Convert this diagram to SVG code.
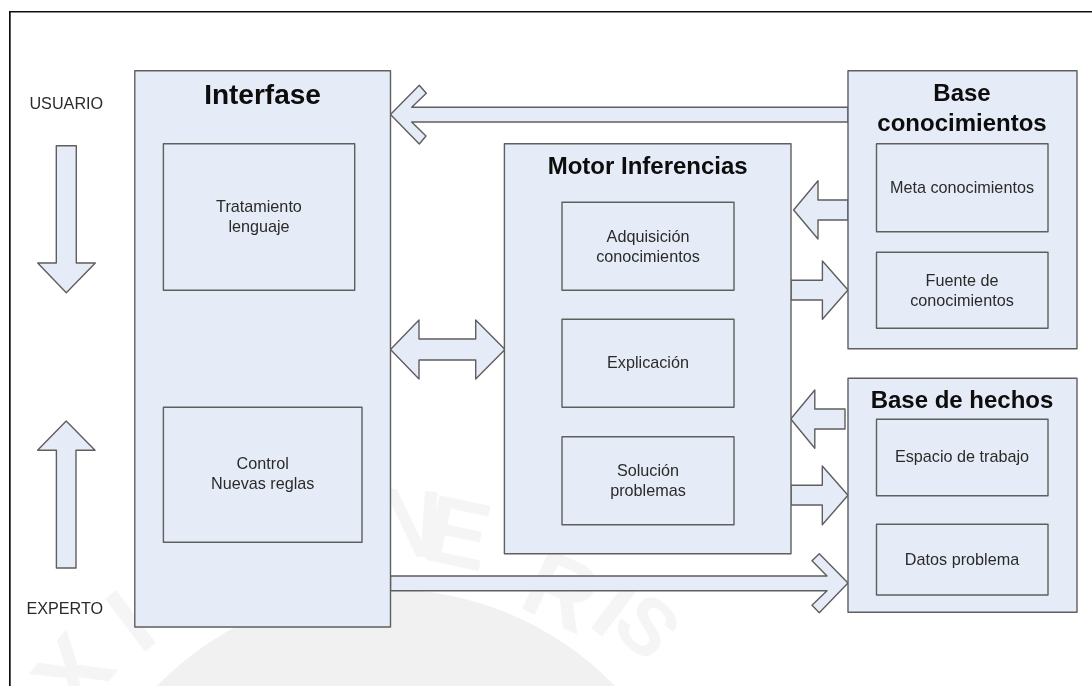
<svg xmlns="http://www.w3.org/2000/svg" width="1092" height="686" viewBox="0 0 1092 686">
<style>
text{font-family:"Liberation Sans",Arial,sans-serif;fill:#2b2b2b;font-size:16.2px;text-anchor:middle}
.t{font-weight:700;font-size:24px;fill:#0a0a0a}
.big{font-size:28px}
.s{fill:#e6ecf7;stroke:#5e5e5e;stroke-width:1.4;stroke-linejoin:round}
.wm{font-weight:700;font-size:96px;fill:#f5f5f5}
.wms{font-size:80px}
</style>
<defs>
<filter id="soft" x="0" y="0" width="100%" height="100%"><feGaussianBlur stdDeviation="0.4"/></filter>
</defs>
<rect width="1092" height="686" fill="#fff"/>
<g id="watermark">
<circle cx="386" cy="908" r="319" fill="#f1f1f1"/>
<text class="wm" transform="translate(72 672) rotate(-50)" y="34">X</text>
<text class="wm" transform="translate(130 620) rotate(-37)" y="34">I</text>
<text class="wm" transform="translate(407 522) rotate(4)" y="34">N</text>
<text class="wm" transform="translate(458 532) rotate(12)" y="34">E</text>
<text class="wm" transform="translate(562 590) rotate(25)" y="34">R</text>
<text class="wm" transform="translate(617 605) rotate(37)" y="34">I</text>
<text class="wm wms" transform="translate(648 626) rotate(45)" y="28">S</text>
</g>
<g filter="url(#soft)">
<path id="frame" d="M9.7 686V11.4H1092" fill="none" stroke="#111" stroke-width="2"/>
<g id="connectors">
<polygon class="s" points="56.3,145.7 76.3,145.7 76.3,263 95.3,263 66.3,292.7 37.7,263 56.3,263"/>
<polygon class="s" points="66.2,421 95,450.3 76,450.3 76,568 56.4,568 56.4,450.3 37.6,450.3"/>
<polygon class="s" points="390.5,114.5 419.3,85.3 426.3,93.3 411.7,107.3 848,107.3 848,122 411.7,122 426,136 419.3,144"/>
<polygon class="s" points="390.5,349.5 419,320 419,339 475.7,339 475.7,320 505,349.5 475.7,379 475.7,360 419,360 419,379"/>
<polygon class="s" points="793.6,210 818,180.7 818,200 848,200 848,220 818,220 818,239"/>
<polygon class="s" points="791,280.3 822.4,280.3 822.4,261 848,290 822.4,319.3 822.4,300 791,300"/>
<polygon class="s" points="790.7,419 814.8,390 814.8,409 845,409 845,429 814.8,429 814.8,448.3"/>
<polygon class="s" points="791,485.3 822.3,485.3 822.3,466 848,495.3 822.3,524.7 822.3,505 791,505"/>
<polygon class="s" points="390.5,576 827,576 812,560.7 819.3,553.7 848,583 819.3,612.7 812,605.3 827,590.7 390.5,590.7"/>
</g>
<g id="interfase">
<rect class="s" x="134.8" y="70.7" width="255.7" height="556.3"/>
<text class="t big" x="262.5" y="104">Interfase</text>
</g>
<g id="tratamiento">
<rect class="s" x="163.4" y="143.7" width="191.3" height="146.6"/>
<text x="259" y="212">Tratamiento</text><text x="259" y="232">lenguaje</text>
</g>
<g id="control">
<rect class="s" x="163.4" y="407.3" width="198.6" height="135"/>
<text x="262.7" y="469.3">Control</text><text x="262.7" y="489.3">Nuevas reglas</text>
</g>
<g id="motor">
<rect class="s" x="504.4" y="143.7" width="286.6" height="410"/>
<text class="t" x="647.7" y="174.3">Motor Inferencias</text>
</g>
<g id="adquisicion">
<rect class="s" x="562" y="202.3" width="172" height="88"/>
<text x="648" y="241.7">Adquisición</text><text x="648" y="261.7">conocimientos</text>
</g>
<g id="explicacion">
<rect class="s" x="562" y="319.3" width="172" height="88"/>
<text x="648" y="368.3">Explicación</text>
</g>
<g id="solucion">
<rect class="s" x="562" y="436.7" width="172" height="88"/>
<text x="648" y="475.7">Solución</text><text x="648" y="495.7">problemas</text>
</g>
<g id="base-conocimientos">
<rect class="s" x="848" y="70.7" width="229" height="278"/>
<text class="t" x="962" y="100.7">Base</text><text class="t" x="962" y="130.7">conocimientos</text>
</g>
<g id="meta">
<rect class="s" x="876.5" y="143.7" width="171.5" height="88"/>
<text x="962" y="193">Meta conocimientos</text>
</g>
<g id="fuente">
<rect class="s" x="876.5" y="252.3" width="171.5" height="76"/>
<text x="962" y="285.7">Fuente de</text><text x="962" y="305.7">conocimientos</text>
</g>
<g id="base-hechos">
<rect class="s" x="848" y="378.3" width="229" height="234"/>
<text class="t" x="962" y="408.3">Base de hechos</text>
</g>
<g id="espacio">
<rect class="s" x="876.5" y="419.3" width="171.5" height="76.4"/>
<text x="962" y="462">Espacio de trabajo</text>
</g>
<g id="datos">
<rect class="s" x="876.5" y="524.3" width="171.5" height="70.7"/>
<text x="962" y="565.3">Datos problema</text>
</g>
<g id="usuario"><text x="66.3" y="109">USUARIO</text></g>
<g id="experto"><text x="64.8" y="614">EXPERTO</text></g>
</g>
</svg>
